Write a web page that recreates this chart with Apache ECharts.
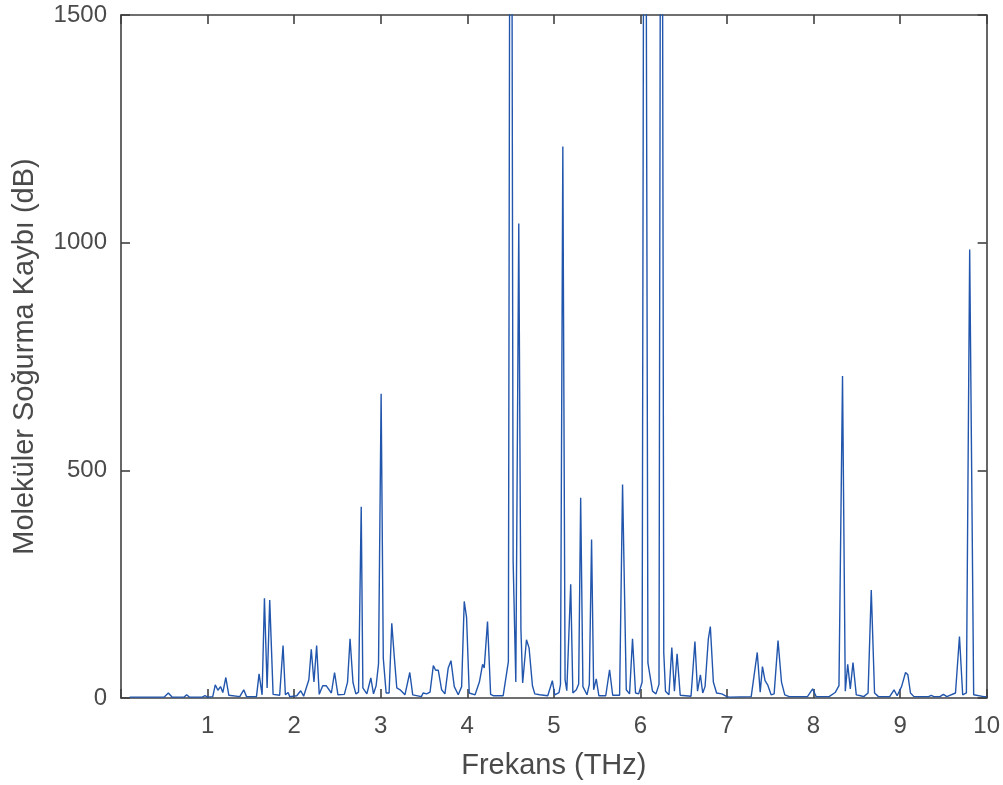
<!DOCTYPE html>
<html>
<head>
<meta charset="utf-8">
<script src="https://cdn.jsdelivr.net/npm/echarts@6/dist/echarts.min.js"></script>
<style>
html,body{margin:0;padding:0;background:#fff;}
#c{width:1003px;height:785px;}
</style>
</head>
<body>
<div id="c"></div>
<script>
// Frequency (THz) of each plotted sample
const freq = [
  0.10, 0.50, 0.547, 0.59, 0.73, 0.758, 0.79, 0.94, 0.97, 1.00,
  1.06, 1.089, 1.119, 1.15, 1.176, 1.211, 1.246, 1.372, 1.418, 1.45,
  1.565, 1.595, 1.63, 1.657, 1.688, 1.718, 1.757, 1.833, 1.872, 1.899,
  1.93, 1.95, 2.03, 2.076, 2.11, 2.17, 2.198, 2.229, 2.26, 2.29,
  2.33, 2.37, 2.43, 2.467, 2.506, 2.58, 2.617, 2.646, 2.68, 2.713,
  2.744, 2.775, 2.794, 2.84, 2.886, 2.917, 2.947, 2.975, 3.005, 3.03,
  3.063, 3.097, 3.128, 3.158, 3.186, 3.224, 3.28, 3.336, 3.37, 3.39,
  3.47, 3.49, 3.53, 3.57, 3.608, 3.635, 3.665, 3.704, 3.742, 3.78,
  3.812, 3.85, 3.896, 3.935, 3.965, 3.992, 4.023, 4.09, 4.14, 4.177,
  4.196, 4.234, 4.27, 4.30, 4.415, 4.475, 4.503, 4.53, 4.561, 4.595,
  4.62, 4.64, 4.684, 4.714, 4.753, 4.78, 4.837, 4.93, 4.983, 5.01,
  5.06, 5.077, 5.104, 5.13, 5.15, 5.195, 5.22, 5.26, 5.287, 5.31,
  5.336, 5.383, 5.41, 5.436, 5.46, 5.49, 5.52, 5.60, 5.644, 5.68,
  5.76, 5.794, 5.837, 5.875, 5.909, 5.944, 5.98, 6.02, 6.05, 6.087,
  6.14, 6.18, 6.215, 6.243, 6.27, 6.29, 6.33, 6.363, 6.393, 6.424,
  6.46, 6.585, 6.63, 6.66, 6.693, 6.72, 6.747, 6.785, 6.808, 6.843,
  6.88, 6.94, 7.00, 7.03, 7.28, 7.35, 7.384, 7.41, 7.44, 7.47,
  7.51, 7.545, 7.59, 7.63, 7.668, 7.72, 7.93, 7.99, 8.03, 8.18,
  8.25, 8.294, 8.335, 8.367, 8.395, 8.425, 8.456, 8.494, 8.544, 8.58,
  8.63, 8.667, 8.705, 8.75, 8.88, 8.93, 8.966, 9.017, 9.063, 9.09,
  9.12, 9.16, 9.33, 9.36, 9.39, 9.46, 9.50, 9.54, 9.64, 9.686,
  9.723, 9.766, 9.804, 9.85, 9.965, 10.0
];
// Molecular absorption loss (dB) at each sample
const loss = [
  2, 2, 11, 2, 2, 7, 2, 2, 5, 2,
  3, 29, 17, 25, 12, 45, 6, 3, 18, 3,
  3, 53, 7, 219, 22, 215, 8, 6, 115, 7,
  12, 3, 5, 16, 4, 40, 107, 35, 115, 8,
  27, 27, 11, 56, 7, 8, 35, 130, 34, 9,
  13, 420, 22, 9, 44, 9, 27, 75, 668, 87,
  11, 11, 164, 88, 22, 18, 7, 56, 7, 3,
  3, 11, 9, 13, 71, 61, 61, 18, 9, 66,
  82, 25, 7, 25, 212, 177, 11, 7, 35, 74,
  66, 168, 8, 5, 5, 80, 3000, 300, 35, 1042,
  150, 33, 128, 110, 27, 9, 7, 5, 38, 7,
  12, 30, 1211, 40, 16, 250, 11, 18, 31, 440,
  25, 7, 30, 348, 18, 42, 5, 5, 62, 6,
  6, 469, 18, 9, 130, 11, 9, 35, 3000, 77,
  15, 9, 30, 3000, 100, 15, 7, 111, 15, 97,
  6, 4, 124, 15, 51, 11, 25, 130, 157, 35,
  11, 9, 3, 2, 3, 100, 13, 69, 38, 29,
  7, 9, 126, 35, 7, 3, 3, 20, 3, 3,
  12, 27, 707, 15, 74, 20, 78, 7, 5, 3,
  11, 237, 11, 3, 3, 18, 5, 25, 56, 51,
  11, 3, 3, 6, 3, 3, 8, 3, 11, 135,
  7, 11, 985, 7, 3, 3
];
const xTicks = [1, 2, 3, 4, 5, 6, 7, 8, 9, 10];
const yTicks = [0, 500, 1000, 1500];

const points = freq.map((f, i) => [f, loss[i]]);
const axisColor = '#404040';
const textColor = '#4a4a4a';
const font = '"Liberation Sans", Arial, Helvetica, sans-serif';

const chart = echarts.init(document.getElementById('c'), null, {renderer: 'canvas'});
const baseX = {
  type: 'value', min: 0, max: 10, interval: 1,
  axisLine: {show: true, onZero: false, lineStyle: {color: axisColor, width: 1.6}},
  axisTick: {show: true, inside: true, length: 9, lineStyle: {color: axisColor, width: 1.6}},
  splitLine: {show: false}
};
const baseY = {
  type: 'value', min: 0, max: 1500, interval: 500,
  axisLine: {show: true, onZero: false, lineStyle: {color: axisColor, width: 1.6}},
  axisTick: {show: true, inside: true, length: 9, lineStyle: {color: axisColor, width: 1.6}},
  splitLine: {show: false}
};
chart.setOption({
  animation: false,
  backgroundColor: '#ffffff',
  grid: {left: 121, right: 15, top: 15, bottom: 85, containLabel: false},
  xAxis: [
    Object.assign({}, baseX, {
      position: 'bottom',
      name: 'Frekans (THz)', nameLocation: 'middle', nameGap: 53,
      nameTextStyle: {color: textColor, fontSize: 29, fontFamily: font},
      axisLabel: {show: true, margin: 16, color: textColor, fontSize: 24, fontFamily: font,
        formatter: v => xTicks.indexOf(v) >= 0 ? String(v) : ''}
    }),
    Object.assign({}, baseX, {position: 'top', axisLabel: {show: false}})
  ],
  yAxis: [
    Object.assign({}, baseY, {
      position: 'left',
      name: 'Moleküler Soğurma Kaybı (dB)', nameLocation: 'middle', nameGap: 82,
      nameTextStyle: {color: textColor, fontSize: 29, fontFamily: font},
      axisLabel: {show: true, margin: 14, color: textColor, fontSize: 24, fontFamily: font,
        formatter: v => yTicks.indexOf(v) >= 0 ? String(v) : ''}
    }),
    Object.assign({}, baseY, {position: 'right', axisLabel: {show: false}})
  ],
  series: [{
    type: 'line',
    xAxisIndex: 0, yAxisIndex: 0,
    data: points,
    showSymbol: false,
    clip: true,
    lineStyle: {color: '#2256ad', width: 1.4},
    itemStyle: {color: '#2256ad'}
  }]
});
</script>
</body>
</html>
